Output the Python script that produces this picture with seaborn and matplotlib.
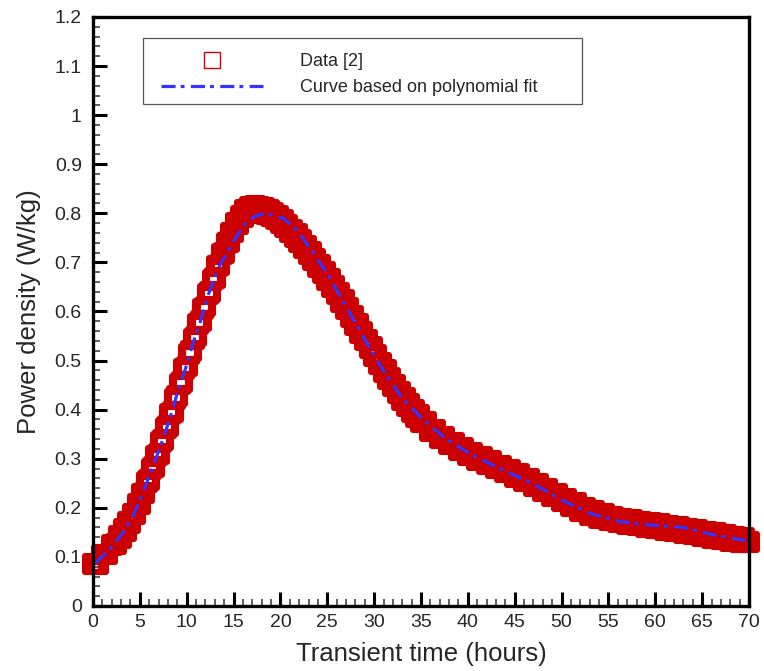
import numpy as np
import pandas as pd
import matplotlib
matplotlib.use("Agg")
import matplotlib.pyplot as plt
from matplotlib.lines import Line2D
from matplotlib.patches import Rectangle
from matplotlib.ticker import MultipleLocator
import seaborn as sns

# ---------------- data ----------------
data_time = [
    0.0, 0.5, 1.0, 1.5, 2.0,
    2.5, 2.75, 3.0, 3.25, 3.5, 3.75, 4.0, 4.25, 4.5, 4.75,
    5.0, 5.25, 5.5, 5.75, 6.0, 6.25, 6.5, 6.75, 7.0, 7.25,
    7.5, 7.75, 8.0, 8.25, 8.5, 8.75, 9.0, 9.25, 9.5, 9.75,
    10.0, 10.25, 10.5, 10.75, 11.0, 11.25, 11.5, 11.75, 12.0, 12.25,
    12.5, 12.75, 13.0, 13.25, 13.5, 13.75, 14.0, 14.25, 14.5, 14.75,
    15.0, 15.25, 15.5, 15.75, 16.0, 16.25, 16.5, 16.75, 17.0, 17.25,
    17.5, 17.75, 18.0, 18.25, 18.5, 18.75, 19.0, 19.25, 19.5, 19.75,
    20.0, 20.25, 20.5, 20.75, 21.0, 21.25, 21.5, 21.75, 22.0, 22.25,
    22.5, 22.75, 23.0, 23.25, 23.5, 23.75, 24.0, 24.25, 24.5, 24.75,
    25.0, 25.25, 25.5, 25.75, 26.0, 26.25, 26.5, 26.75, 27.0, 27.25,
    27.5, 27.75, 28.0, 28.25, 28.5, 28.75, 29.0, 29.25, 29.5, 29.75,
    30.0, 30.25, 30.5, 30.75, 31.0, 31.25, 31.5, 31.75, 32.0, 32.25,
    32.5, 32.75, 33.0, 33.25, 33.5, 33.75, 34.0, 34.25, 34.5, 34.75,
    35.0,
    35.5, 36.0, 36.5, 37.0, 37.5, 38.0, 38.5, 39.0, 39.5, 40.0,
    40.5, 41.0, 41.5, 42.0, 42.5, 43.0, 43.5, 44.0, 44.5, 45.0,
    45.5, 46.0, 46.5, 47.0, 47.5, 48.0, 48.5, 49.0, 49.5, 50.0,
    50.5, 51.0, 51.5, 52.0, 52.5, 53.0, 53.5, 54.0, 54.5, 55.0,
    55.5, 56.0, 56.5, 57.0, 57.5, 58.0, 58.5, 59.0, 59.5, 60.0,
    60.5, 61.0, 61.5, 62.0, 62.5, 63.0, 63.5, 64.0, 64.5, 65.0,
    65.5, 66.0, 66.5, 67.0, 67.5, 68.0, 68.5, 69.0, 69.5, 70.0,
]
data_power = [
    0.085, 0.085, 0.105, 0.105, 0.125,
    0.126, 0.142, 0.139, 0.156, 0.153, 0.171, 0.169, 0.188, 0.187, 0.207,
    0.208, 0.229, 0.231, 0.253, 0.256, 0.279, 0.283, 0.306, 0.310, 0.334,
    0.338, 0.362, 0.366, 0.391, 0.396, 0.421, 0.427, 0.452, 0.457, 0.482,
    0.488, 0.513, 0.519, 0.544, 0.549, 0.575, 0.580, 0.605, 0.610, 0.635,
    0.640, 0.664, 0.668, 0.692, 0.695, 0.717, 0.719, 0.740, 0.741, 0.761,
    0.761, 0.780, 0.778, 0.795, 0.792, 0.807, 0.801, 0.814, 0.805, 0.816,
    0.805, 0.814, 0.803, 0.811, 0.799, 0.807, 0.794, 0.801, 0.788, 0.795,
    0.781, 0.787, 0.772, 0.777, 0.762, 0.767, 0.752, 0.757, 0.741, 0.745,
    0.729, 0.733, 0.717, 0.721, 0.704, 0.708, 0.691, 0.695, 0.678, 0.681,
    0.664, 0.667, 0.650, 0.653, 0.635, 0.638, 0.620, 0.623, 0.605, 0.607,
    0.589, 0.591, 0.573, 0.575, 0.557, 0.559, 0.541, 0.543, 0.525, 0.527,
    0.509, 0.511, 0.493, 0.495, 0.477, 0.480, 0.462, 0.465, 0.447, 0.450,
    0.433, 0.436, 0.419, 0.423, 0.407, 0.411, 0.395, 0.400, 0.385, 0.390,
    0.375,
    0.376, 0.357, 0.359, 0.342, 0.345, 0.329, 0.333, 0.317, 0.322, 0.307,
    0.312, 0.297, 0.303, 0.289, 0.295, 0.280, 0.286, 0.272, 0.277, 0.263,
    0.269, 0.254, 0.259, 0.244, 0.249, 0.234, 0.239, 0.224, 0.229, 0.214,
    0.219, 0.204, 0.209, 0.194, 0.200, 0.186, 0.193, 0.180, 0.187, 0.175,
    0.182, 0.170, 0.178, 0.167, 0.175, 0.164, 0.172, 0.161, 0.170, 0.158,
    0.167, 0.155, 0.164, 0.152, 0.161, 0.149, 0.157, 0.146, 0.154, 0.143,
    0.151, 0.139, 0.148, 0.136, 0.144, 0.133, 0.141, 0.130, 0.138, 0.131,
]

fit_time = [
    0.3, 1.8, 3.2, 4.3, 5.2, 6.3, 7.2, 8.2, 9.1, 10.0,
    10.7, 11.4, 12.3, 13.5, 14.4, 15.2, 16.4, 17.4, 18.5, 20.4,
    21.9, 23.3, 25.1, 26.2, 27.8, 29.4, 31.0, 32.9, 35.1, 37.7,
    40.4, 43.1, 46.3, 48.0, 50.0, 53.0, 56.2, 59.4, 63.0, 66.2,
    70.0,
]
fit_power = [
    0.088, 0.116, 0.149, 0.185, 0.224, 0.280, 0.325, 0.382, 0.440, 0.491,
    0.537, 0.576, 0.634, 0.693, 0.722, 0.749, 0.783, 0.795, 0.800, 0.789,
    0.763, 0.725, 0.674, 0.637, 0.583, 0.530, 0.479, 0.426, 0.382, 0.340,
    0.308, 0.283, 0.255, 0.238, 0.216, 0.189, 0.172, 0.165, 0.160, 0.145,
    0.132,
]

x_ticks = [0, 5, 10, 15, 20, 25, 30, 35, 40, 45, 50, 55, 60, 65, 70]
y_ticks = [0, 0.1, 0.2, 0.3, 0.4, 0.5, 0.6, 0.7, 0.8, 0.9, 1.0, 1.1, 1.2]
y_tick_labels = ["0", "0.1", "0.2", "0.3", "0.4", "0.5", "0.6", "0.7",
                 "0.8", "0.9", "1", "1.1", "1.2"]

labels = ["Data [2]", "Curve based on polynomial fit"]
x_title = "Transient time (hours)"
y_title = "Power density (W/kg)"

# ---------------- style ----------------
sns.set_style("white")
plt.rcParams["font.family"] = ["Liberation Sans", "DejaVu Sans"]

RED = "#CC0000"
BLUE = "#3333FF"
DASH = (0, (4.4, 1.6, 1.2, 2.0))

df_data = pd.DataFrame({"t": data_time, "p": data_power})
df_fit = pd.DataFrame({"t": fit_time, "p": fit_power})

fig = plt.figure(figsize=(7.64, 6.71), dpi=100)
ax = fig.add_axes([0.1217, 0.0969, 0.8587, 0.8778])

sns.scatterplot(data=df_data, x="t", y="p", marker="s", s=130,
                color=RED, facecolor="none", edgecolor=RED,
                linewidth=4.4, clip_on=False, ax=ax, zorder=2,
                legend=False)

sns.lineplot(data=df_fit, x="t", y="p", color=BLUE, linewidth=2.3,
             linestyle=DASH, sort=False, ax=ax, zorder=3, legend=False)

ax.set_xlim(0, 70)
ax.set_ylim(0, 1.2)
ax.set_xticks(x_ticks)
ax.set_xticklabels([str(v) for v in x_ticks])
ax.set_yticks(y_ticks)
ax.set_yticklabels(y_tick_labels)
ax.xaxis.set_minor_locator(MultipleLocator(1))
ax.yaxis.set_minor_locator(MultipleLocator(0.02))

ax.tick_params(axis="both", which="major", direction="in", length=10,
               width=2.2, color="black", labelsize=14, top=False,
               right=False, left=True, bottom=True)
ax.tick_params(axis="y", which="major", pad=8)
ax.tick_params(axis="x", which="major", pad=6)
ax.tick_params(axis="both", which="minor", direction="in", length=5,
               width=1.1, color="#333333", top=False, right=False,
               left=True, bottom=True)

for sp in ax.spines.values():
    sp.set_visible(True)
    sp.set_linewidth(2.4)
    sp.set_color("black")
    sp.set_zorder(5)

ax.set_xlabel(x_title, fontsize=18.5, labelpad=8)
ax.set_ylabel(y_title, fontsize=18.5, labelpad=10)

# legend frame drawn as its own rectangle, entries placed inside it
ax.add_patch(Rectangle((0.0762, 0.852), 0.669, 0.112,
                       transform=ax.transAxes, fill=True,
                       facecolor="white", edgecolor="#555555",
                       linewidth=0.9, zorder=6, clip_on=False))
handles = [
    Line2D([], [], linestyle="none", marker="s", markersize=11,
           markerfacecolor="none", markeredgecolor=RED,
           markeredgewidth=1.0),
    Line2D([], [], color=BLUE, linewidth=2.3, linestyle=DASH),
]
leg = ax.legend(handles, labels, loc="upper left",
                bbox_to_anchor=(0.1037, 0.938), borderaxespad=0,
                fontsize=13, handlelength=5.65, handletextpad=2.05,
                borderpad=0, labelspacing=0.47, frameon=False,
                numpoints=1)
leg.set_zorder(7)

fig.savefig("out.png", dpi=100)
